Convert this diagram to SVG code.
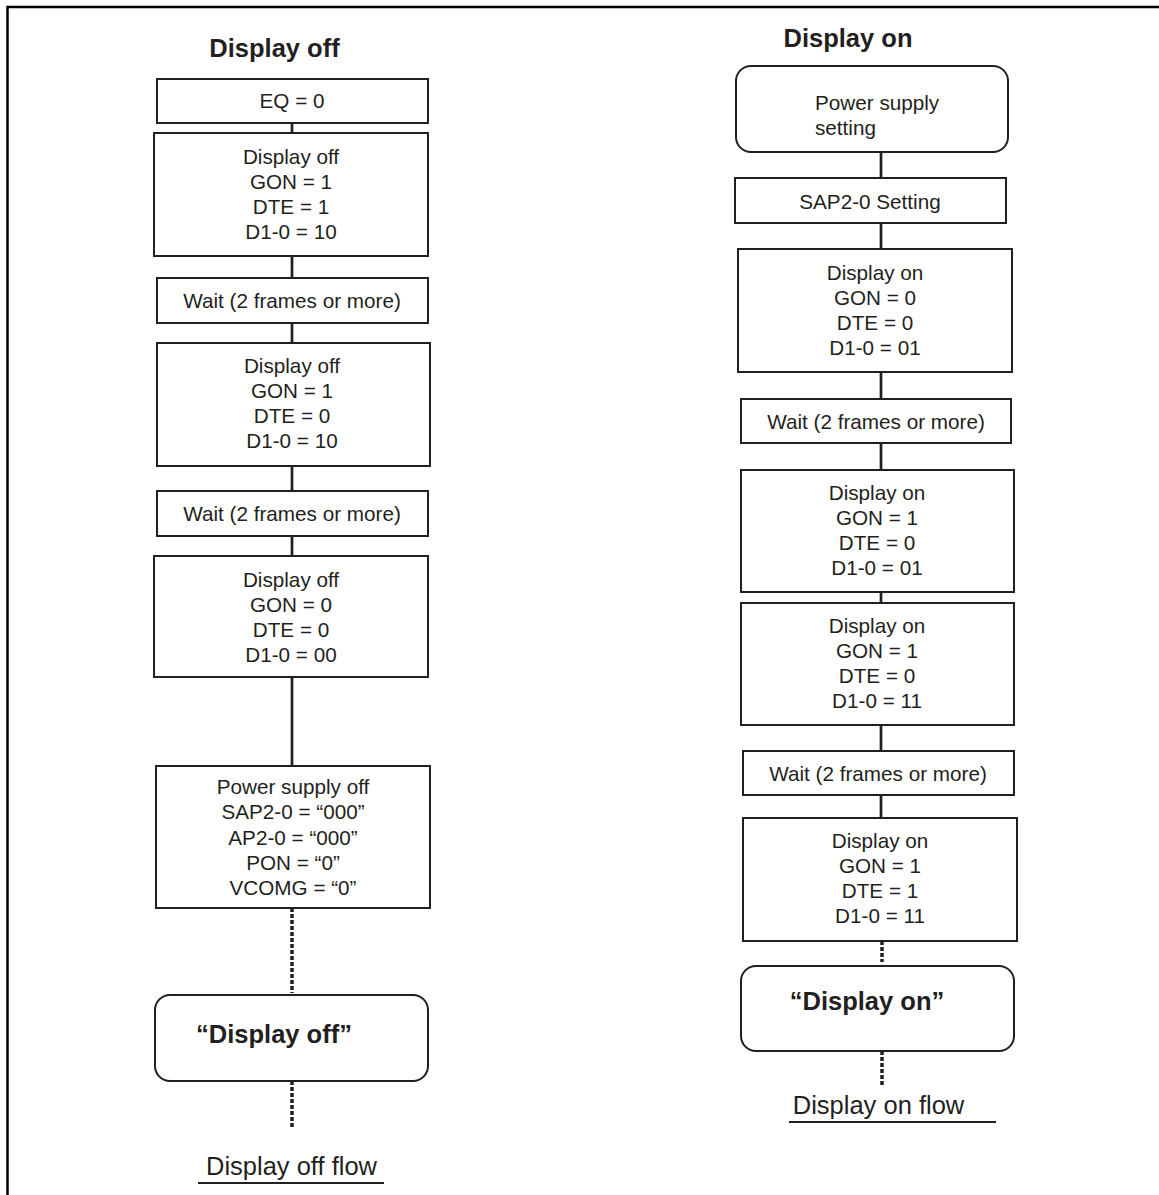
<svg xmlns="http://www.w3.org/2000/svg" width="1159" height="1195" viewBox="0 0 1159 1195">
<style>
.box{fill:#fff;stroke:#231f20;stroke-width:2}
.t{font-family:"Liberation Sans",Arial,sans-serif;font-size:20.7px;fill:#231f20;text-anchor:middle}
.b{font-family:"Liberation Sans",Arial,sans-serif;font-size:25.5px;font-weight:bold;fill:#231f20;text-anchor:middle}
.f{font-family:"Liberation Sans",Arial,sans-serif;font-size:25.5px;fill:#231f20;text-anchor:middle}
.c{stroke:#231f20;stroke-width:2.7;fill:none}
.d{stroke:#231f20;stroke-width:3.5;fill:none;stroke-dasharray:4 2}
</style>
<rect width="1159" height="1195" fill="#fff"/>
<g id="border"><path d="M7.5 1195V7H1159" fill="none" stroke="#000" stroke-width="2.5"/></g>
<g id="connectors">
<path class="c" d="M292 123V133M292 256V278M292 323V343M292 466V491M292 536V556M292 677V766"/>
<path class="d" d="M292 908V993M292 1081V1128"/>
<path class="c" d="M881 152V178M881 223V249M881 372V399M881 443V470M881 592V603M881 725V751M881 795V818"/>
<path class="d" d="M882 941V962M882 1051V1085"/>
</g>
<g id="title-off"><text class="b" x="274.5" y="57">Display off</text></g>
<g id="title-on"><text class="b" x="848" y="47">Display on</text></g>
<g id="off-eq"><rect class="box" x="157" y="79" width="271" height="44"/><text class="t" x="292" y="108">EQ = 0</text></g>
<g id="off-1"><rect class="box" x="154" y="133" width="274" height="123"/><text class="t" x="291" y="164">Display off</text><text class="t" x="291" y="189">GON = 1</text><text class="t" x="291" y="214">DTE = 1</text><text class="t" x="291" y="239">D1-0 = 10</text></g>
<g id="off-wait1"><rect class="box" x="157" y="278" width="271" height="45"/><text class="t" x="292" y="308">Wait (2 frames or more)</text></g>
<g id="off-2"><rect class="box" x="157" y="343" width="273" height="123"/><text class="t" x="292" y="373">Display off</text><text class="t" x="292" y="398">GON = 1</text><text class="t" x="292" y="423">DTE = 0</text><text class="t" x="292" y="448">D1-0 = 10</text></g>
<g id="off-wait2"><rect class="box" x="157" y="491" width="271" height="45"/><text class="t" x="292" y="521">Wait (2 frames or more)</text></g>
<g id="off-3"><rect class="box" x="154" y="556" width="274" height="121"/><text class="t" x="291" y="587">Display off</text><text class="t" x="291" y="612">GON = 0</text><text class="t" x="291" y="637">DTE = 0</text><text class="t" x="291" y="662">D1-0 = 00</text></g>
<g id="off-power"><rect class="box" x="156" y="766" width="274" height="142"/><text class="t" x="293" y="794">Power supply off</text><text class="t" x="293" y="819">SAP2-0 = “000”</text><text class="t" x="293" y="845">AP2-0 = “000”</text><text class="t" x="293" y="870">PON = “0”</text><text class="t" x="293" y="895">VCOMG = “0”</text></g>
<g id="off-end"><rect class="box" x="155" y="995" width="273" height="86" rx="15"/><text class="b" x="274" y="1043">“Display off”</text></g>
<g id="off-label"><text class="f" x="291.5" y="1175">Display off flow</text><line x1="198" y1="1183" x2="384" y2="1183" stroke="#231f20" stroke-width="2"/></g>
<g id="on-power"><rect class="box" x="736" y="66" width="272" height="86" rx="15"/><text class="t" x="815" y="110" style="text-anchor:start">Power supply</text><text class="t" x="815" y="135" style="text-anchor:start">setting</text></g>
<g id="on-sap"><rect class="box" x="735" y="178" width="271" height="45"/><text class="t" x="870" y="209">SAP2-0 Setting</text></g>
<g id="on-1"><rect class="box" x="738" y="249" width="274" height="123"/><text class="t" x="875" y="280">Display on</text><text class="t" x="875" y="305">GON = 0</text><text class="t" x="875" y="330">DTE = 0</text><text class="t" x="875" y="355">D1-0 = 01</text></g>
<g id="on-wait1"><rect class="box" x="741" y="399" width="270" height="44"/><text class="t" x="876" y="429">Wait (2 frames or more)</text></g>
<g id="on-2"><rect class="box" x="741" y="470" width="273" height="122"/><text class="t" x="877" y="500">Display on</text><text class="t" x="877" y="525">GON = 1</text><text class="t" x="877" y="550">DTE = 0</text><text class="t" x="877" y="575">D1-0 = 01</text></g>
<g id="on-3"><rect class="box" x="741" y="603" width="273" height="122"/><text class="t" x="877" y="633">Display on</text><text class="t" x="877" y="658">GON = 1</text><text class="t" x="877" y="683">DTE = 0</text><text class="t" x="877" y="708">D1-0 = 11</text></g>
<g id="on-wait2"><rect class="box" x="743" y="751" width="271" height="44"/><text class="t" x="878" y="781">Wait (2 frames or more)</text></g>
<g id="on-4"><rect class="box" x="743" y="818" width="274" height="123"/><text class="t" x="880" y="848">Display on</text><text class="t" x="880" y="873">GON = 1</text><text class="t" x="880" y="898">DTE = 1</text><text class="t" x="880" y="923">D1-0 = 11</text></g>
<g id="on-end"><rect class="box" x="741" y="966" width="273" height="85" rx="15"/><text class="b" x="867" y="1010">“Display on”</text></g>
<g id="on-label"><text class="f" x="878.5" y="1114">Display on flow</text><line x1="789" y1="1122" x2="996" y2="1122" stroke="#231f20" stroke-width="2"/></g>
</svg>
